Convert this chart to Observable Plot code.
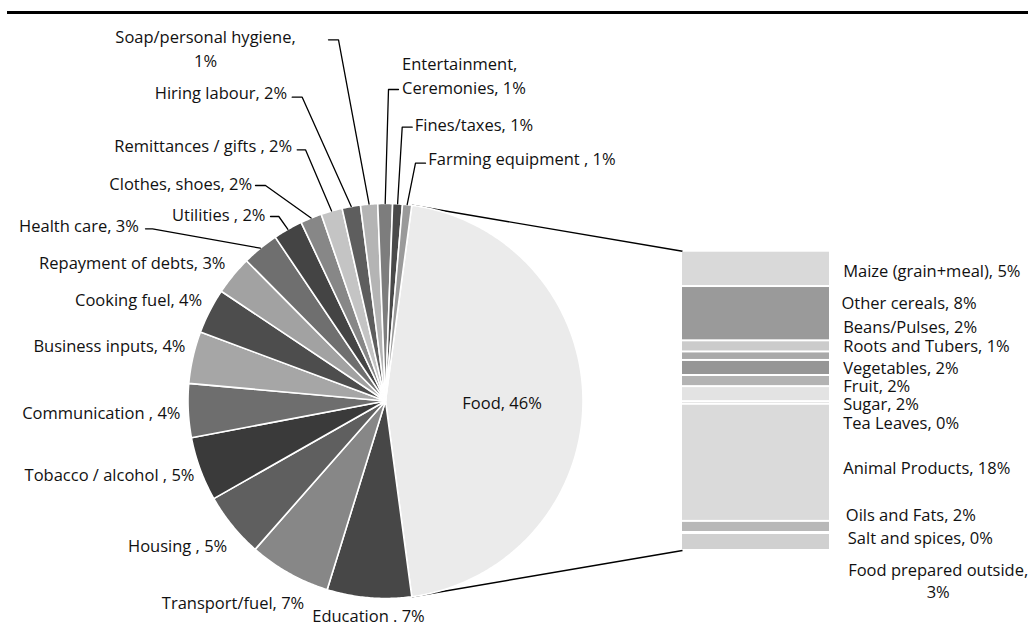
<!DOCTYPE html>
<html>
<head>
<meta charset="utf-8">
<script src="https://cdn.jsdelivr.net/npm/d3@7"></script>
<script src="https://cdn.jsdelivr.net/npm/@observablehq/plot@0.6"></script>
<style>
  html, body { margin: 0; padding: 0; background: #fff; overflow: hidden; }
  #wrap { position: relative; width: 1028px; height: 626px; }
  #chart { position: absolute; left: 0; top: 0; }
  #rule { position: absolute; left: 7px; right: 0; top: 11px; height: 3px; background: #000; }
</style>
</head>
<body>
<div id="wrap"><div id="chart"></div><div id="rule"></div></div>
<script>
// ---- Household expenditure shares (% of total) ----
const expenseCategories = [
  "Education", "Transport/fuel", "Housing", "Tobacco / alcohol", "Communication",
  "Business inputs", "Cooking fuel", "Repayment of debts", "Health care", "Utilities",
  "Clothes, shoes", "Remittances / gifts", "Hiring labour", "Soap/personal hygiene",
  "Entertainment, Ceremonies", "Fines/taxes", "Farming equipment"
];
const expenseShares = [6.9, 6.7, 5.3, 5.25, 4.4, 4.25, 3.7, 3.2, 3.0, 2.4, 1.75, 1.75, 1.5, 1.4, 1.2, 0.8, 0.75];

// Breakdown of the food share, shown in the stacked bar
const foodItems = [
  "Maize (grain+meal)", "Other cereals", "Beans/Pulses", "Roots and Tubers", "Vegetables",
  "Fruit", "Sugar", "Tea Leaves", "Animal Products", "Oils and Fats", "Salt and spices",
  "Food prepared outside"
];
const foodShares = [5.4, 8.3, 1.7, 1.3, 2.3, 1.7, 2.3, 0.4, 17.9, 1.7, 0.15, 2.6];

// Label wording as printed (food first, then the expense categories)
const pieLabelPrefixes = [
  "Food,", "Education .", "Transport/fuel,", "Housing ,", "Tobacco / alcohol ,", "Communication ,",
  "Business inputs,", "Cooking fuel,", "Repayment of debts,", "Health care,", "Utilities ,",
  "Clothes, shoes,", "Remittances / gifts ,", "Hiring labour,", "Soap/personal hygiene,\n",
  "Entertainment,\nCeremonies,", "Fines/taxes,", "Farming equipment ,"
];
const foodLabelPrefixes = [
  "Maize (grain+meal),", "Other cereals,", "Beans/Pulses,", "Roots and Tubers,", "Vegetables,",
  "Fruit,", "Sugar,", "Tea Leaves,", "Animal Products,", "Oils and Fats,", "Salt and spices,",
  "Food prepared outside,\n"
];

// ---- Styles ----
const pieFills = [
  "#ebebeb", "#474747", "#878787", "#5f5f5f", "#3a3a3a", "#6e6e6e", "#a6a6a6", "#4d4d4d",
  "#a2a2a2", "#6f6f6f", "#444444", "#878787", "#c4c4c4", "#5e5e5e", "#b4b4b4", "#7d7d7d",
  "#4a4a4a", "#9a9a9a"
];
const barFills = [
  "#d9d9d9", "#9a9a9a", "#cbcbcb", "#a9a9a9", "#969696", "#b3b3b3", "#e3e3e3", "#d9d9d9",
  "#dadada", "#b8b8b8", "#c0c0c0", "#d0d0d0"
];

// ---- Layout ----
const CX = 385, CY = 400.5, R = 197.5;
const BAR = {x1: 682, x2: 829, top: 250.7, bottom: 550};
// label anchor for each pie label: [x, y, textAnchor, leader elbow x, elbow y, leader end x]
const pieLabelLayout = [
  null, // food label sits inside its slice
  [368, 614, "middle"],
  [232.5, 601, "middle"],
  [226.7, 544.3, "end"],
  [194, 473.3, "end"],
  [180, 411, "end"],
  [185, 344, "end"],
  [201.7, 298.3, "end"],
  [225, 261, "end"],
  [138.3, 224, "end", 152, 228.3, 145],
  [265, 213.3, "end", 278.3, 216, 270],
  [251.7, 181.7, "end", 265, 185, 255],
  [291.7, 144, "end", 305, 149.3, 296.7],
  [286.7, 90.7, "end", 301.7, 96.7, 291.7],
  [205, 47, "middle", 338, 39.3, 328],
  [401.5, 74, "start", 388, 89, 398],
  [414.3, 122.7, "start", 401.7, 126.7, 411.7],
  [427.7, 157.3, "start", 415, 162.7, 425]
];
const foodLabelLayout = [
  [842.7, 269.3, "start"], [841, 301, "start"], [842.7, 325, "start"], [842.7, 344, "start"],
  [842.7, 366.2, "start"], [842.7, 384.2, "start"], [842.7, 402.7, "start"], [842.7, 421.7, "start"],
  [842.7, 466.7, "start"], [845.3, 513.3, "start"], [847.3, 536.7, "start"], [937.7, 579, "middle"]
];

// ---- Geometry derived from the values ----
const foodTotal = d3.sum(foodShares);
const pieNames = ["Food", ...expenseCategories];
const pieValues = [foodTotal, ...expenseShares];
const total = d3.sum(pieValues);
const rad = (deg) => deg * Math.PI / 180;
const pt = (deg, r) => [CX + r * Math.sin(rad(deg)), CY - r * Math.cos(rad(deg))];
const fmt = (v) => `${Math.round(v)}%`;
const joinLabel = (prefix, v) => prefix + (prefix.endsWith("\n") ? "" : " ") + fmt(v);

// food is centred on the right-hand side so its edges open towards the bar
let angle = 90 - (foodTotal / total) * 180;
const slices = pieNames.map((name, i) => {
  const a0 = angle, a1 = angle + (pieValues[i] / total) * 360;
  angle = a1;
  return {name, value: pieValues[i], a0, a1, mid: (a0 + a1) / 2, fill: pieFills[i]};
});

const sliceRows = slices.flatMap((s) => {
  const n = Math.max(2, Math.ceil((s.a1 - s.a0) / 0.5));
  const rows = [{key: s.name, fill: s.fill, x: CX, y: CY}];
  for (let k = 0; k <= n; ++k) {
    const [x, y] = pt(s.a0 + (s.a1 - s.a0) * k / n, R);
    rows.push({key: s.name, fill: s.fill, x, y});
  }
  return rows;
});

// stacked food bar
const pxPerPct = (BAR.bottom - BAR.top) / foodTotal;
let acc = 0;
const barRows = foodItems.map((name, i) => {
  const y1 = BAR.top + acc * pxPerPct;
  acc += foodShares[i];
  return {name, y1, y2: BAR.top + acc * pxPerPct, fill: barFills[i]};
});

// connectors from the food slice edges to the bar
const food = slices[0];
const [fx0, fy0] = pt(food.a0, R);
const [fx1, fy1] = pt(food.a1, R);
const connectors = [
  {x1: fx0, y1: fy0, x2: BAR.x1, y2: barRows[0].y1},
  {x1: fx1, y1: fy1, x2: BAR.x1, y2: barRows[barRows.length - 1].y2}
];

// labels
const pieTextRows = slices.map((s, i) => {
  const text = joinLabel(pieLabelPrefixes[i], s.value);
  const lay = pieLabelLayout[i];
  if (!lay) {
    const [x, y] = pt(s.mid, R * 0.59);
    return {text, x, y, anchor: "middle"};
  }
  return {text, x: lay[0], y: lay[1], anchor: lay[2]};
});
const leaderRows = slices.flatMap((s, i) => {
  const lay = pieLabelLayout[i];
  if (!lay || lay.length < 6) return [];
  const [ax, ay] = pt(s.mid, R);
  return [
    {key: s.name, x: ax, y: ay},
    {key: s.name, x: lay[3], y: lay[4]},
    {key: s.name, x: lay[5], y: lay[4]}
  ];
});
const barTextRows = foodItems.map((name, i) => ({
  text: joinLabel(foodLabelPrefixes[i], foodShares[i]),
  x: foodLabelLayout[i][0], y: foodLabelLayout[i][1], anchor: foodLabelLayout[i][2]
}));

const font = {fontFamily: "'Open Sans', sans-serif", fontSize: 16.5, fill: "#111"};
const textMarks = (rows, lineHeight) => ["start", "middle", "end"].map((anchor) =>
  Plot.text(rows.filter((d) => d.anchor === anchor), {
    x: "x", y: "y", text: "text", textAnchor: anchor, lineAnchor: "middle", lineHeight, ...font
  })
);

const chart = Plot.plot({
  width: 1028,
  height: 626,
  margin: 0,
  x: {domain: [0, 1028], range: [0, 1028], axis: null},
  y: {domain: [0, 626], range: [0, 626], axis: null},
  color: {type: "identity"},
  marks: [
    Plot.link(connectors, {x1: "x1", y1: "y1", x2: "x2", y2: "y2", stroke: "#000", strokeWidth: 1.4}),
    Plot.line(sliceRows, {x: "x", y: "y", z: "key", fill: "fill", stroke: "#fff", strokeWidth: 1.6, curve: "linear-closed", strokeLinejoin: "round"}),
    Plot.rect(barRows, {x1: () => BAR.x1, x2: () => BAR.x2, y1: "y1", y2: "y2", fill: "fill", insetTop: 1, insetBottom: 1}),
    Plot.line(leaderRows, {x: "x", y: "y", z: "key", stroke: "#000", strokeWidth: 1.3}),
    ...textMarks(pieTextRows, 1.45),
    ...textMarks(barTextRows, 1.33)
  ]
});
document.getElementById("chart").append(chart);
</script>
</body>
</html>
